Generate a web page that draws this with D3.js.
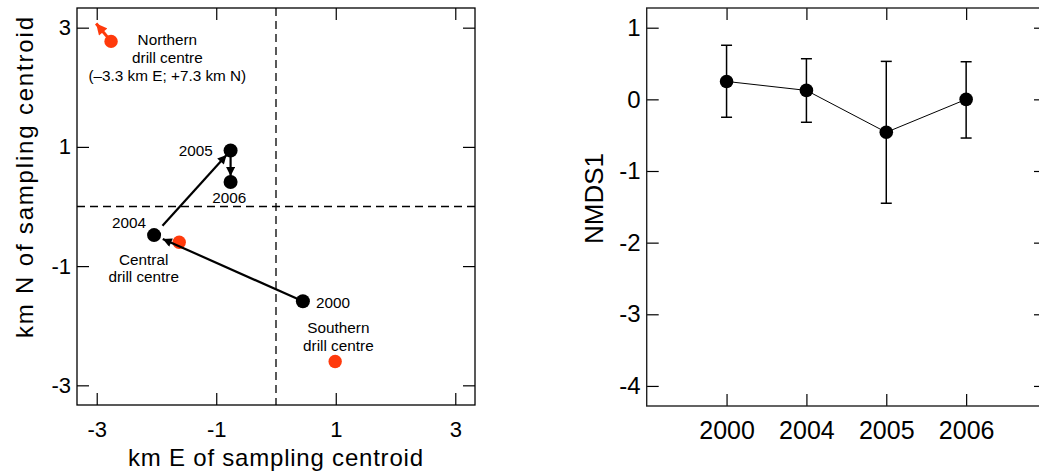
<!DOCTYPE html>
<html>
<head>
<meta charset="utf-8">
<script src="https://cdn.jsdelivr.net/npm/d3@7"></script>
<style>
  html, body { margin: 0; padding: 0; background: #fff; }
  svg { display: block; font-family: "Liberation Sans", Arial, Helvetica, sans-serif; }
</style>
</head>
<body>
<svg id="chart" width="1039" height="472"></svg>
<script>
// ---- Left panel: centroid positions (km from sampling centroid) ----
const years = ["2000", "2004", "2005", "2006"];
const centroidE = [0.45, -2.04, -0.76, -0.76];
const centroidN = [-1.59, -0.48, 0.94, 0.41];

const drillNames = ["Northern", "Central", "Southern"];
const drillE = [-2.76, -1.62, 0.99];
const drillN = [2.77, -0.60, -2.60];
// Northern centre lies off the plot; an arrow points towards it
const northernArrowTip = [-3.01, 3.07];
const northernNote = "(–3.3 km E; +7.3 km N)";

const leftTicks = [-3, -1, 1, 3];

// ---- Right panel: NMDS1 mean with error bars ----
const nmdsYears = ["2000", "2004", "2005", "2006"];
const nmdsMean = [0.25, 0.125, -0.46, 0.0];
const nmdsLow = [-0.25, -0.32, -1.45, -0.54];
const nmdsHigh = [0.755, 0.567, 0.53, 0.525];
const rightYTicks = [1, 0, -1, -2, -3, -4];

const svg = d3.select("#chart");
const red = "#ff3a0c";
const font = "Liberation Sans, Arial, sans-serif";

// arrow head marker
const defs = svg.append("defs");
function marker(id, color, w, h) {
  defs.append("marker")
    .attr("id", id)
    .attr("viewBox", "0 0 10 10")
    .attr("refX", 10).attr("refY", 5)
    .attr("markerUnits", "userSpaceOnUse")
    .attr("markerWidth", w).attr("markerHeight", h)
    .attr("orient", "auto")
    .append("path").attr("d", "M0,0 L10,5 L0,10 Z").attr("fill", color);
}
marker("headBlack", "#000", 11, 9);
marker("headRed", red, 12, 11);

// =================== LEFT PANEL ===================
const L = { x0: 77, x1: 475, y0: 8, y1: 405 };
const xL = d3.scaleLinear().domain([-3.33, 3.33]).range([L.x0, L.x1]);
const yL = d3.scaleLinear().domain([-3.33, 3.33]).range([L.y1, L.y0]);

const gL = svg.append("g");

// dashed zero lines
gL.append("line")
  .attr("x1", xL(0)).attr("x2", xL(0)).attr("y1", L.y0).attr("y2", L.y1)
  .attr("stroke", "#000").attr("stroke-width", 1.3).attr("stroke-dasharray", "8,5");
gL.append("line")
  .attr("x1", L.x0).attr("x2", L.x1).attr("y1", yL(0)).attr("y2", yL(0))
  .attr("stroke", "#000").attr("stroke-width", 1.3).attr("stroke-dasharray", "8,5");

function styleAxis(g, fs) {
  g.select(".domain").remove();
  g.selectAll(".tick line").attr("stroke", "#000").attr("stroke-width", 1.2);
  g.selectAll(".tick text").attr("font-family", font).attr("font-size", fs).attr("fill", "#000");
}
const fmt = d => String(d);

gL.append("g").attr("transform", `translate(0,${L.y1})`)
  .call(d3.axisBottom(xL).tickValues(leftTicks).tickSize(-12).tickPadding(16.5).tickFormat(fmt))
  .call(g => styleAxis(g, 22));
gL.append("g").attr("transform", `translate(0,${L.y0})`)
  .call(d3.axisTop(xL).tickValues(leftTicks).tickSize(-12).tickFormat(""))
  .call(g => styleAxis(g, 22));
gL.append("g").attr("transform", `translate(${L.x0},0)`)
  .call(d3.axisLeft(yL).tickValues(leftTicks).tickSize(-12).tickPadding(6).tickFormat(fmt))
  .call(g => styleAxis(g, 22));
gL.append("g").attr("transform", `translate(${L.x1},0)`)
  .call(d3.axisRight(yL).tickValues(leftTicks).tickSize(-12).tickFormat(""))
  .call(g => styleAxis(g, 22));

gL.append("rect")
  .attr("x", L.x0).attr("y", L.y0).attr("width", L.x1 - L.x0).attr("height", L.y1 - L.y0)
  .attr("fill", "none").attr("stroke", "#000").attr("stroke-width", 1.3);

// axis titles
gL.append("text")
  .attr("x", (L.x0 + L.x1) / 2 - 0.5).attr("y", 466)
  .attr("text-anchor", "middle").attr("font-size", 24)
  .attr("textLength", 295).attr("lengthAdjust", "spacing")
  .text("km E of sampling centroid");
gL.append("text")
  .attr("transform", "translate(33,177.5) rotate(-90)")
  .attr("text-anchor", "middle").attr("font-size", 24)
  .attr("textLength", 321).attr("lengthAdjust", "spacing")
  .text("km N of sampling centroid");

const pts = years.map((y, i) => ({ year: y, px: xL(centroidE[i]), py: yL(centroidN[i]) }));

// movement arrows between successive years
function arrow(a, b, gapStart, gapEnd, color, width, head) {
  const dx = b[0] - a[0], dy = b[1] - a[1];
  const len = Math.hypot(dx, dy), ux = dx / len, uy = dy / len;
  gL.append("line")
    .attr("x1", a[0] + ux * gapStart).attr("y1", a[1] + uy * gapStart)
    .attr("x2", b[0] - ux * gapEnd).attr("y2", b[1] - uy * gapEnd)
    .attr("stroke", color).attr("stroke-width", width)
    .attr("marker-end", `url(#${head})`);
}

// drill centres (red)
const drill = drillNames.map((n, i) => ({ name: n, px: xL(drillE[i]), py: yL(drillN[i]) }));
gL.selectAll("circle.drill").data(drill).join("circle")
  .attr("class", "drill")
  .attr("cx", d => d.px).attr("cy", d => d.py).attr("r", 6.7).attr("fill", red);
arrow([drill[0].px, drill[0].py], [xL(northernArrowTip[0]), yL(northernArrowTip[1])], 0, 0, red, 3, "headRed");

const gaps = [[0, 9.5], [12.5, 6], [0, 6]];
for (let i = 0; i < pts.length - 1; i++) {
  arrow([pts[i].px, pts[i].py], [pts[i + 1].px, pts[i + 1].py], gaps[i][0], gaps[i][1], "#000", 2.2, "headBlack");
}

gL.selectAll("circle.year").data(pts).join("circle")
  .attr("class", "year")
  .attr("cx", d => d.px).attr("cy", d => d.py).attr("r", 7).attr("fill", "#000");

// year labels
const yearLabelPos = {
  "2000": { dx: 13, dy: 6.6, anchor: "start" },
  "2004": { dx: -8, dy: -7, anchor: "end" },
  "2005": { dx: -17.7, dy: 6, anchor: "end" },
  "2006": { dx: -1.4, dy: 21.3, anchor: "middle" }
};
gL.selectAll("text.year").data(pts).join("text")
  .attr("class", "year")
  .attr("x", d => d.px + yearLabelPos[d.year].dx)
  .attr("y", d => d.py + yearLabelPos[d.year].dy)
  .attr("text-anchor", d => yearLabelPos[d.year].anchor)
  .attr("font-size", 15.3).text(d => d.year);

// drill centre labels
const drillLabel = {
  Northern: { dx: 56.3, dy: 4, lines: ["Northern", "drill centre", northernNote] },
  Central: { dx: -35.5, dy: 22.3, lines: ["Central", "drill centre"] },
  Southern: { dx: 3.2, dy: -28, lines: ["Southern", "drill centre"] }
};
drill.forEach(d => {
  const lab = drillLabel[d.name];
  lab.lines.forEach((t, k) => {
    gL.append("text")
      .attr("x", d.px + lab.dx).attr("y", d.py + lab.dy + k * 17.7)
      .attr("text-anchor", "middle").attr("font-size", 15.3).text(t);
  });
});

// =================== RIGHT PANEL ===================
const R = { x0: 646.7, x1: 1046, y0: 8, y1: 406 };
const xR = d3.scaleLinear().domain([-1, 4]).range([R.x0, R.x1]);
const yR = d3.scaleLinear().domain([-4.28, 1.275]).range([R.y1, R.y0]);
const gR = svg.append("g");
const idx = nmdsYears.map((_, i) => i);
const yearFmt = i => nmdsYears[i];

gR.append("g").attr("transform", `translate(0,${R.y1})`)
  .call(d3.axisBottom(xR).tickValues(idx).tickSize(-12).tickPadding(15).tickFormat(yearFmt))
  .call(g => styleAxis(g, 25));
gR.append("g").attr("transform", `translate(0,${R.y0})`)
  .call(d3.axisTop(xR).tickValues(idx).tickSize(-12).tickFormat(""))
  .call(g => styleAxis(g, 25));
gR.append("g").attr("transform", `translate(${R.x0},0)`)
  .call(d3.axisLeft(yR).tickValues(rightYTicks).tickSize(-12).tickPadding(6).tickFormat(fmt))
  .call(g => styleAxis(g, 24));
gR.append("g").attr("transform", `translate(${R.x1},0)`)
  .call(d3.axisRight(yR).tickValues(rightYTicks).tickSize(-12).tickFormat(""))
  .call(g => styleAxis(g, 24));

gR.append("rect")
  .attr("x", R.x0).attr("y", R.y0).attr("width", R.x1 - R.x0).attr("height", R.y1 - R.y0)
  .attr("fill", "none").attr("stroke", "#222").attr("stroke-width", 1.4);

gR.append("text")
  .attr("transform", "translate(603,198.5) rotate(-90)")
  .attr("text-anchor", "middle").attr("font-size", 26)
  .text("NMDS1");

const nm = idx.map(i => ({ i, m: nmdsMean[i], lo: nmdsLow[i], hi: nmdsHigh[i] }));

gR.selectAll("line.err").data(nm).join("line")
  .attr("class", "err")
  .attr("x1", d => xR(d.i)).attr("x2", d => xR(d.i))
  .attr("y1", d => yR(d.lo)).attr("y2", d => yR(d.hi))
  .attr("stroke", "#000").attr("stroke-width", 1.5);
["lo", "hi"].forEach(k => {
  gR.selectAll(`line.cap-${k}`).data(nm).join("line")
    .attr("class", `cap-${k}`)
    .attr("x1", d => xR(d.i) - 5.5).attr("x2", d => xR(d.i) + 5.5)
    .attr("y1", d => yR(d[k])).attr("y2", d => yR(d[k]))
    .attr("stroke", "#000").attr("stroke-width", 1.5);
});

gR.append("path").datum(nm)
  .attr("d", d3.line().x(d => xR(d.i)).y(d => yR(d.m)))
  .attr("fill", "none").attr("stroke", "#000").attr("stroke-width", 1);

gR.selectAll("circle.mean").data(nm).join("circle")
  .attr("class", "mean")
  .attr("cx", d => xR(d.i)).attr("cy", d => yR(d.m)).attr("r", 6.8).attr("fill", "#000");
</script>
</body>
</html>
